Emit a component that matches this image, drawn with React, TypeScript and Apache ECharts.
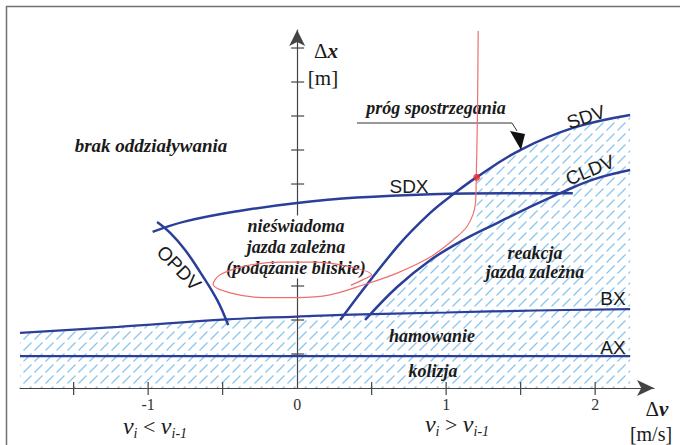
import React, { useEffect, useRef } from 'react';
import * as echarts from 'echarts';

// ---- axis ticks / labels (m/s and m) ----
const xTickValues = [-1.5, -1, -0.5, 0.5, 1, 1.5, 2];
const xLabelValues = [-1, 0, 1, 2];
const yTickValues = [1, 2, 3, 4, 5, 6, 7, 8, 9, 10];

// ---- thresholds (Δv [m/s], Δx [m]) ----
const AX = [[-1.86, 0.94], [2.235, 0.94]];
const BX = [[-1.86, 1.62], [-1.2, 1.8], [-0.47, 2.02], [0, 2.1], [0.3, 2.15], [1, 2.22], [1.6, 2.28], [2.235, 2.32]];
const SDX = [[-0.97, 4.59], [-0.75, 4.9], [-0.4, 5.2], [0, 5.44], [0.4, 5.6], [0.9, 5.7], [1.4, 5.73], [1.85, 5.73]];
const OPDV = [[-0.94, 4.88], [-0.852, 4.56], [-0.752, 4.06], [-0.651, 3.41], [-0.537, 2.59], [-0.463, 1.85]];
const SDV = [[0.289, 2.0], [0.671, 4.15], [0.893, 5.15], [1.06, 5.74], [1.208, 6.21], [1.497, 7.0], [1.852, 7.65], [2.235, 8.03]];
const CLDV = [[0.456, 2.0], [0.671, 2.97], [0.893, 3.76], [1.114, 4.35], [1.342, 4.85], [1.55, 5.3], [1.8, 5.8], [2.0, 6.15], [2.235, 6.41]];
const trajectory = [
  [1.215, 10.5], [1.21, 8.0], [1.202, 6.2], [1.197, 5.45], [1.18, 5.1], [1.14, 4.75], [1.07, 4.44],
  [0.893, 3.85], [0.671, 3.38], [0.443, 3.03], [0.221, 2.74], [0, 2.66], [-0.228, 2.66], [-0.45, 2.8],
  [-0.564, 3.05], [-0.517, 3.33], [-0.336, 3.6], [-0.114, 3.7], [0.107, 3.7], [0.336, 3.58], [0.5, 3.33],
  [0.44, 3.18], [0.36, 3.02],
];
const perceptionPoint = [[1.205, 6.2]];

function interp(curve: number[][], x: number): number {
  for (let i = 0; i < curve.length - 1; i++) {
    const a = curve[i], b = curve[i + 1];
    if (x >= a[0] && x <= b[0]) return a[1] + ((x - a[0]) / (b[0] - a[0])) * (b[1] - a[1]);
  }
  return x < curve[0][0] ? curve[0][1] : curve[curve.length - 1][1];
}

function hatchPolygon(): number[][] {
  const xl = BX[0][0];
  const xr = BX[BX.length - 1][0];
  const xRed = perceptionPoint[0][0];
  const pts: number[][] = [[xl, 0], [xr, 0]];
  SDV.filter((p) => p[0] > xRed).reverse().forEach((p) => pts.push(p));
  pts.push([xRed, interp(SDV, xRed)]);
  pts.push([xRed, interp(CLDV, xRed)]);
  let xc = CLDV[0][0];
  while (xc < xRed && interp(CLDV, xc) < interp(BX, xc)) xc += 0.002;
  CLDV.filter((p) => p[0] < xRed && p[0] > xc).reverse().forEach((p) => pts.push(p));
  pts.push([xc, interp(BX, xc)]);
  BX.filter((p) => p[0] < xc).reverse().forEach((p) => pts.push(p));
  return pts;
}

const BLUE = '#2b3f99';
const AXIS = '#444';
const BI = (s: number) => `italic bold ${s}px "Liberation Serif"`;
const SANS = (s: number) => `${s}px "Liberation Sans"`;

function txt(text: string, x: number, y: number, font: string, rotation = 0, extra: any = {}, z = 6) {
  return {
    type: 'text', x, y, rotation, z,
    style: {
      text, x: 0, y: 0, font, fill: '#1a1a1a',
      align: 'center', verticalAlign: 'middle', textAlign: 'center', textVerticalAlign: 'middle',
      ...extra,
    },
  };
}

function line(name: string, data: number[][], width: number, smooth: number | boolean) {
  return {
    name, type: 'line', data, smooth, symbol: 'none', z: 4, silent: true,
    lineStyle: { color: BLUE, width },
  };
}

export default function App() {
  const ref = useRef<HTMLDivElement>(null);
  useEffect(() => {
    if (!ref.current) return;
    const chart = echarts.init(ref.current, null, { renderer: 'svg' });

    const cv = document.createElement('canvas');
    cv.width = 11; cv.height = 11;
    const ctx = cv.getContext('2d')!;
    ctx.strokeStyle = '#8cc5ed';
    ctx.lineWidth = 1.25;
    ctx.beginPath(); ctx.moveTo(1.5, 9.5); ctx.lineTo(9.5, 1.5); ctx.stroke();
    const pattern: any = { image: cv, repeat: 'repeat', imageWidth: 11, imageHeight: 11 };
    const hatch = hatchPolygon();

    const subMain = { font: 'italic 24px "Liberation Serif"', fill: '#1a1a1a', lineHeight: 28, verticalAlign: 'middle' };
    const subSmall = { font: 'italic 14px "Liberation Serif"', fill: '#1a1a1a', lineHeight: 13, verticalAlign: 'bottom' };
    const subOp = { font: '22px "Liberation Serif"', fill: '#1a1a1a', lineHeight: 28, verticalAlign: 'middle' };
    const richD = {
      d: { font: '21px "Liberation Serif"', fill: '#1a1a1a' },
      x: { font: BI(21), fill: '#1a1a1a' },
    };

    chart.setOption({
      animation: false,
      backgroundColor: '#fff',
      grid: { left: 20, right: 26, top: 30, bottom: 57, containLabel: false, outerBoundsMode: 'none' },
      xAxis: {
        type: 'value', min: -1.86, max: 2.395,
        axisLine: { show: true, onZero: true, symbol: ['none', 'arrow'], symbolSize: [12, 17], lineStyle: { color: AXIS, width: 1.2 } },
        axisTick: { show: false },
        splitLine: { show: false },
        axisLabel: {
          customValues: xLabelValues, margin: 8, fontFamily: 'Liberation Serif', fontSize: 16, color: '#333',
          formatter: (v: number) => String(v),
        },
      },
      yAxis: {
        type: 'value', min: 0, max: 10.53,
        axisLine: { show: true, onZero: true, symbol: ['none', 'arrow'], symbolSize: [12, 16], lineStyle: { color: AXIS, width: 1.2 } },
        axisTick: { show: false },
        axisLabel: { show: false },
        splitLine: { show: false },
      },
      series: [
        {
          type: 'custom', data: [[0, 0]], clip: false, silent: true, z: 1,
          renderItem: (_p: any, api: any) => ({
            type: 'polygon',
            shape: { points: hatch.map((p) => api.coord(p)) },
            style: { fill: pattern, stroke: null },
          }),
        },
        {
          type: 'custom', data: xTickValues.map((v) => [v, 0]), clip: false, silent: true, z: 2,
          renderItem: (_p: any, api: any) => {
            const c = api.coord([api.value(0), 0]);
            return { type: 'line', shape: { x1: c[0], y1: c[1] - 6, x2: c[0], y2: c[1] + 7 }, style: { stroke: AXIS, lineWidth: 1.2 } };
          },
        },
        {
          type: 'custom', data: yTickValues.map((v) => [0, v]), clip: false, silent: true, z: 2,
          renderItem: (_p: any, api: any) => {
            const c = api.coord([0, api.value(1)]);
            return { type: 'line', shape: { x1: c[0] - 6, y1: c[1], x2: c[0] + 7, y2: c[1] }, style: { stroke: AXIS, lineWidth: 1.2 } };
          },
        },
        line('AX', AX, 2.2, false),
        line('BX', BX, 2.2, 0.4),
        line('SDX', SDX, 2.5, 0.4),
        line('OPDV', OPDV, 2.5, 0.4),
        line('SDV', SDV, 2.5, 0.4),
        line('CLDV', CLDV, 2.5, 0.4),
        {
          name: 'trajectory', type: 'line', data: trajectory, smooth: 0.35, symbol: 'none', z: 10, silent: true,
          lineStyle: { color: '#ee6f6f', width: 1.2 },
        },
        {
          name: 'perception', type: 'scatter', data: perceptionPoint, symbolSize: 7, z: 11, silent: true,
          itemStyle: { color: '#e8302a' },
        },
      ],
      graphic: [
        { type: 'rect', z: 0, shape: { x: 6.5, y: 6.5, width: 720, height: 500 }, style: { fill: 'none', stroke: '#707070', lineWidth: 1.5 } },
        txt('brak oddziaływania', 151, 145, BI(19)),
        txt('nieświadoma\njazda zależna\n(podążanie bliskie)', 296, 247, BI(18), 0, { lineHeight: 21, backgroundColor: '#fff', padding: [0, 2] }, 3),
        txt('reakcja\njazda zależna', 535, 262, BI(18), 0, { lineHeight: 19 }),
        txt('hamowanie', 432, 336, BI(18)),
        txt('kolizja', 433, 371, BI(18)),
        txt('próg spostrzegania', 436, 108, BI(18)),
        txt('SDX', 409, 186, SANS(19)),
        txt('SDV', 586, 117, SANS(19), 0.32),
        txt('CLDV', 590, 170, SANS(19), 0.39),
        txt('OPDV', 179, 268, SANS(19), -0.8),
        txt('BX', 613, 298, SANS(19)),
        txt('AX', 613, 347, SANS(19)),
        { type: 'polyline', z: 6, shape: { points: [[357, 123], [512, 123], [517, 131]] }, style: { stroke: '#333', lineWidth: 1, fill: null } },
        { type: 'polygon', z: 6, shape: { points: [[510, 131], [525, 134], [521, 150]] }, style: { fill: '#111' } },
        txt('{d|Δ}{x|x}', 326, 51, '20px "Liberation Serif"', 0, { rich: richD }),
        txt('[m]', 323, 78, '21px "Liberation Serif"'),
        txt('{d|Δ}{x|v}', 657, 409, '20px "Liberation Serif"', 0, { rich: richD }),
        txt('[m/s]', 651, 434, '20px "Liberation Serif"'),
        txt('{v|v}{s|i}{o| < }{v|v}{s|i-1}', 155, 426, '20px "Liberation Serif"', 0, { rich: { v: subMain, s: subSmall, o: subOp } }),
        txt('{v|v}{s|i}{o| > }{v|v}{s|i-1}', 457, 424, '20px "Liberation Serif"', 0, { rich: { v: subMain, s: subSmall, o: subOp } }),
      ],
    });
    return () => chart.dispose();
  }, []);
  return <div ref={ref} style={{ position: 'fixed', left: 0, top: 0, width: 680, height: 445 }} />;
}
